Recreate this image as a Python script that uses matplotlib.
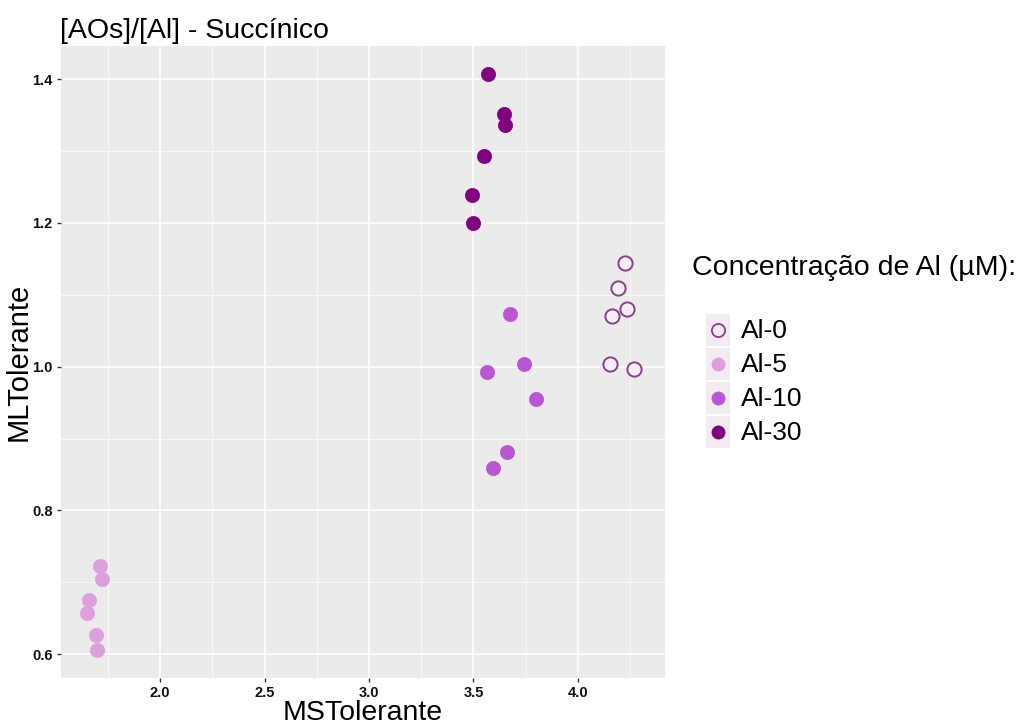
import matplotlib
matplotlib.use("Agg")
import matplotlib.pyplot as plt
from matplotlib.patches import Rectangle
from matplotlib.ticker import MultipleLocator

plt.rcParams['font.family'] = ['Liberation Sans', 'DejaVu Sans']

# MSTolerante (x) vs MLTolerante (y) per aluminium level
groups = ['Al-0', 'Al-5', 'Al-10', 'Al-30']

al0_x = [4.227, 4.190, 4.236, 4.163, 4.153, 4.270]
al0_y = [1.144, 1.109, 1.080, 1.070, 1.004, 0.997]

al5_x = [1.713, 1.724, 1.662, 1.652, 1.692, 1.699]
al5_y = [0.723, 0.705, 0.676, 0.658, 0.627, 0.606]

al10_x = [3.676, 3.743, 3.566, 3.797, 3.662, 3.593]
al10_y = [1.073, 1.004, 0.992, 0.955, 0.882, 0.859]

al30_x = [3.571, 3.648, 3.652, 3.552, 3.493, 3.499]
al30_y = [1.407, 1.352, 1.336, 1.293, 1.239, 1.200]

xs = [al0_x, al5_x, al10_x, al30_x]
ys = [al0_y, al5_y, al10_y, al30_y]

# (face, edge) per group; Al-0 is drawn hollow
styles = [
    ('#f6edf6', '#8b3f8b'),
    ('#dda0dd', '#dda0dd'),
    ('#ba55d3', '#ba55d3'),
    ('#800080', '#800080'),
]

fig = plt.figure(figsize=(10.27, 7.26), dpi=100)
ax = fig.add_axes([0.0594, 0.0661, 0.588, 0.8705])
ax.set_facecolor('#ebebeb')

for x, y, (fc, ec) in zip(xs, ys, styles):
    ax.scatter(x, y, s=105, facecolor=fc, edgecolor=ec,
               linewidth=1.4 if fc != ec else 0.5, zorder=3)

ax.set_xlim(1.526, 4.416)
ax.set_ylim(0.567, 1.446)
ax.xaxis.set_major_locator(MultipleLocator(0.5))
ax.xaxis.set_minor_locator(MultipleLocator(0.25))
ax.yaxis.set_major_locator(MultipleLocator(0.2))
ax.yaxis.set_minor_locator(MultipleLocator(0.1))
ax.grid(which='major', color='white', linewidth=1.2)
ax.grid(which='minor', color='white', linewidth=0.5)
ax.set_axisbelow(True)
for sp in ax.spines.values():
    sp.set_visible(False)

ax.tick_params(which='major', direction='out', length=3, width=1,
               color='#333333', pad=3)
ax.tick_params(which='minor', length=0)
for lab in ax.get_xticklabels() + ax.get_yticklabels():
    lab.set_fontfamily(['Liberation Sans Narrow', 'Liberation Sans'])
    lab.set_fontweight('bold')
    lab.set_fontsize(10.5)
    lab.set_color('#111111')

ax.set_xlabel('MSTolerante', fontsize=20.5, labelpad=0)
ax.set_ylabel('MLTolerante', fontsize=21, labelpad=0)
fig.text(0.0584, 0.948, '[AOs]/[Al] - Succínico', fontsize=20.5, ha='left', va='baseline')

# legend block on the right
fig.text(0.674, 0.621, 'Concentração de Al (µM):', fontsize=20.5, ha='left', va='baseline')
lg = fig.add_axes([0, 0, 1, 1], facecolor='none')
lg.set_xlim(0, 1027)
lg.set_ylim(726, 0)
lg.axis('off')
rows = [330, 364, 398, 432]
for row, label, (fc, ec) in zip(rows, groups, styles):
    lg.add_patch(Rectangle((706, row - 16), 24, 32, facecolor='#f2ecf2', edgecolor='none'))
    lg.scatter([718], [row], s=90, facecolor=fc, edgecolor=ec,
               linewidth=1.3 if fc != ec else 0.5, zorder=3)
    lg.text(741, row + 1, label, fontsize=19, ha='left', va='center')

fig.savefig('out.png', dpi=100)
